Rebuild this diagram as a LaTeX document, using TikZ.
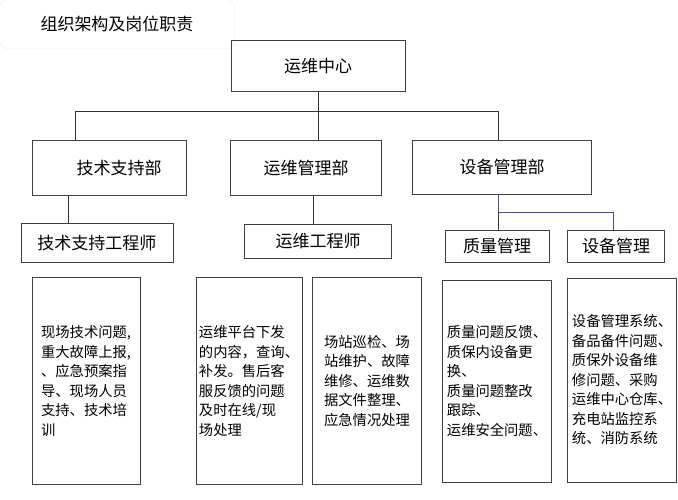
\documentclass[tikz,border=0pt]{standalone}
\usepackage{fontspec}
\newfontfamily\cjk{Noto Sans CJK SC}
\begin{document}
\begin{tikzpicture}[x=1pt,y=-1pt]
\tikzstyle{kuang}=[draw=black!75, line width=0.8pt, inner sep=0pt, font=\cjk\fontsize{17}{19}\selectfont]
\tikzstyle{zhize}=[draw=black!75, line width=0.8pt, inner sep=2pt, align=left, font=\cjk\fontsize{14.3}{19.5}\selectfont]
\tikzstyle{xian}=[black!80, line width=0.8pt]
\useasboundingbox (0,0) rectangle (678,500);
% title
\node[draw=black!8, rounded corners=8pt, minimum width=235pt, minimum height=49pt, font=\cjk\fontsize{17}{19}\selectfont] (biaoti) at (117,24) {组织架构及岗位职责};
% level 0 and 1
\node[kuang, minimum width=174pt, minimum height=51pt] (zhongxin) at (318,66) {运维中心};
\node[kuang, minimum width=154pt, minimum height=55pt] (jishu) at (109,168) {\hspace{20pt}技术支持部};
\node[kuang, minimum width=151pt, minimum height=55pt] (yunwei) at (306,168) {运维管理部};
\node[kuang, minimum width=179pt, minimum height=54pt] (shebei) at (502,167) {设备管理部};
% level 2
\node[kuang, minimum width=152pt, minimum height=39pt] (gcs) at (97,243) {技术支持工程师};
\node[kuang, minimum width=147pt, minimum height=34pt] (ywgcs) at (318,241) {运维工程师};
\node[kuang, minimum width=104pt, minimum height=32pt] (zhiliang) at (497,246) {质量管理};
\node[kuang, minimum width=97pt, minimum height=32pt] (sbgl) at (616,246) {设备管理};
% duties
\node[zhize, minimum width=108pt, minimum height=207pt] (z1) at (86,381) {现场技术问题,\\重大故障上报,\\、应急预案指\\导、现场人员\\支持、技术培\\训};
\node[zhize, minimum width=106pt, minimum height=207pt] (z2) at (249,381) {运维平台下发\\的内容，查询、\\补发。售后客\\服反馈的问题\\及时在线/现\\场处理};
\node[zhize, minimum width=109pt, minimum height=207pt] (z3) at (367,381) {场站巡检、场\\站维护、故障\\维修、运维数\\据文件整理、\\应急情况处理};
\node[zhize, minimum width=109pt, minimum height=202pt] (z4) at (497,381) {质量问题反馈、\\质保内设备更\\换、\\质量问题整改\\跟踪、\\运维安全问题、};
\node[zhize, minimum width=109pt, minimum height=204pt] (z5) at (622,380) {设备管理系统、\\备品备件问题、\\质保外设备维\\修问题、采购\\运维中心仓库、\\充电站监控系\\统、消防系统};
% connectors
\draw[xian] (zhongxin.south) |- (75,111) -- (jishu.north -| 75,0);
\draw[xian] (zhongxin.south) -- (yunwei.north -| zhongxin.south);
\draw[xian] (zhongxin.south) |- (498,111) -- (shebei.north -| 498,0);
\draw[xian] (jishu.south -| 68,0) -- (gcs.north -| 68,0);
\draw[xian] (yunwei.south -| 313,0) -- (ywgcs.north -| 313,0);
\draw[blue!45!black!70, line width=0.8pt] (shebei.south -| 498,0) -- (498,212) -| (sbgl.north -| 613,0);
\draw[xian] (498,212) -- (zhiliang.north -| 498,0);
\end{tikzpicture}
\end{document}
